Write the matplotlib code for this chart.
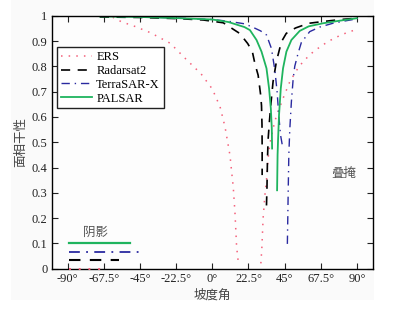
import matplotlib
matplotlib.use("Agg")
import matplotlib.pyplot as plt
from matplotlib.patches import Rectangle

plt.rcParams['font.family'] = ['Liberation Serif', 'Noto Sans CJK SC', 'DejaVu Sans']

# ---------------- data ----------------
series_names = ["ERS", "Radarsat2", "TerraSAR-X", "PALSAR"]

# ERS (two branches)
ers_left_x = [-62, -56.6, -47.9, -38.6, -26.2, -15.9, -7, 0, 4.8, 7.9, 11, 12, 13, 14.1, 15.1, 16.1]
ers_left_y = [0.994, 0.976, 0.957, 0.933, 0.891, 0.825, 0.77, 0.71, 0.64, 0.56, 0.447, 0.383, 0.324, 0.219, 0.087, 0.028]
ers_right_x = [30.2, 30.8, 31.2, 31.6, 32.0, 32.7, 33.7, 34.7, 35.8, 38.9, 41.5, 44, 46.1, 48.2, 51.3, 54, 57, 60.1, 63.7, 67.4, 71.3, 75, 79.2, 83.7, 88.5, 90]
ers_right_y = [0.021, 0.08, 0.14, 0.2, 0.232, 0.29, 0.35, 0.436, 0.495, 0.584, 0.63, 0.673, 0.706, 0.739, 0.772, 0.8, 0.821, 0.842, 0.862, 0.878, 0.895, 0.908, 0.921, 0.933, 0.943, 0.946]

# Radarsat2
rs2_left_x = [-70, -45, -20, -5.6, 6.8, 17, 22, 24.9, 26.5, 28.5, 30.0, 30.6, 30.9, 31.0, 31.0]
rs2_left_y = [0.995, 0.993, 0.988, 0.983, 0.972, 0.93, 0.89, 0.858, 0.81, 0.765, 0.69, 0.645, 0.57, 0.48, 0.37]
rs2_right_x = [33.7, 34.0, 34.3, 34.7, 35.5, 36.5, 37.8, 39.9, 43, 46, 49.2, 52, 60, 69, 80, 90]
rs2_right_y = [0.25, 0.32, 0.43, 0.51, 0.58, 0.655, 0.74, 0.82, 0.897, 0.93, 0.943, 0.952, 0.97, 0.977, 0.985, 0.99]

# TerraSAR-X
tsx_left_x = [-70, -45, -20, 0, 10, 20, 25, 30, 33.7, 36.8, 38.9, 40.3, 41.3, 42.4, 43.5]
tsx_left_y = [0.998, 0.996, 0.99, 0.985, 0.978, 0.968, 0.955, 0.94, 0.924, 0.87, 0.785, 0.7, 0.61, 0.53, 0.49]
tsx_right_x = [46.7, 47.2, 47.6, 48.2, 49.2, 50.3, 51.3, 53.3, 55.4, 60.6, 66.8, 75, 82.3, 89.5]
tsx_right_y = [0.098, 0.3, 0.45, 0.55, 0.66, 0.75, 0.8, 0.85, 0.894, 0.937, 0.955, 0.97, 0.979, 0.987]

# PALSAR
pal_left_x = [-70, -45, -20, 0, 10, 20, 23.4, 27.5, 30.6, 33.7, 35.3, 36.4, 37.0, 37.2]
pal_left_y = [0.997, 0.995, 0.99, 0.985, 0.975, 0.955, 0.943, 0.904, 0.858, 0.792, 0.713, 0.634, 0.555, 0.475]
pal_right_x = [40.3, 40.6, 40.9, 41.5, 42.6, 44, 46.1, 49.2, 54.4, 60, 68.8, 79, 90]
pal_right_y = [0.31, 0.45, 0.509, 0.607, 0.713, 0.792, 0.858, 0.904, 0.94, 0.958, 0.97, 0.98, 0.99]

# shadow ranges (start/end angle, level) per sensor
shadow_start = [-89, -89, -89, -89]
shadow_end = [-69.6, -58.3, -43.8, -51.4]
shadow_level = [0.0, 0.035, 0.065, 0.10]

x_ticks = [-90, -67.5, -45, -22.5, 0, 22.5, 45, 67.5, 90]
x_tick_labels = ["-90°", "-67.5°", "-45°", "-22.5°", "0°", "22.5°", "45°", "67.5°", "90°"]
y_ticks = [0, 0.1, 0.2, 0.3, 0.4, 0.5, 0.6, 0.7, 0.8, 0.9, 1]
y_tick_labels = ["0", "0.1", "0.2", "0.3", "0.4", "0.5", "0.6", "0.7", "0.8", "0.9", "1"]

# ---------------- styles ----------------
colors = ["#f4607a", "#000000", "#2a2aa0", "#1fb45e"]
styles = [(0, (1, 4)), (0, (5.5, 4.5)), (0, (6, 3.5, 1, 3.5)), "-"]
widths = [1.1, 1.2, 1.0, 1.3]

fig = plt.figure(figsize=(4.02, 3.10), dpi=100)
fig.patch.set_facecolor("white")
fig.patches.append(Rectangle((11 / 402, 10 / 310), (374 - 11) / 402, 300 / 310,
                             transform=fig.transFigure, facecolor="#fafafa",
                             edgecolor="none", zorder=-10))
ax = fig.add_axes([51.7 / 402, 41.3 / 310, (373 - 51.7) / 402, (268.7 - 15.7) / 310])
ax.set_facecolor("#fdfdfd")

branches = [
    [(ers_left_x, ers_left_y), (ers_right_x, ers_right_y)],
    [(rs2_left_x, rs2_left_y), (rs2_right_x, rs2_right_y)],
    [(tsx_left_x, tsx_left_y), (tsx_right_x, tsx_right_y)],
    [(pal_left_x, pal_left_y), (pal_right_x, pal_right_y)],
]
for i, name in enumerate(series_names):
    for j, (bx, by) in enumerate(branches[i]):
        ax.plot(bx, by, color=colors[i], linestyle=styles[i], lw=widths[i],
                label=name if j == 0 else None)
    ax.plot([shadow_start[i], shadow_end[i]], [shadow_level[i], shadow_level[i]],
            color=colors[i], linestyle=styles[i], lw=widths[i] + 0.3,
            clip_on=False, zorder=4)

ax.set_xlim(-100, 100)
ax.set_ylim(0, 1)
ax.set_xticks(x_ticks)
ax.set_xticklabels(x_tick_labels)
ax.set_yticks(y_ticks)
ax.set_yticklabels(y_tick_labels)
ax.tick_params(direction="in", length=4, width=0.8, top=True, right=True,
               labelsize=9, colors="#222222", pad=3)
for sp in ax.spines.values():
    sp.set_linewidth(1.0)

ax.set_xlabel("坡度角", fontsize=9, color="#444444", labelpad=3,
              family=["Noto Sans CJK SC", "DejaVu Sans"])
ax.set_ylabel("面相干性", fontsize=9, color="#444444", labelpad=3,
              family=["Noto Sans CJK SC", "DejaVu Sans"])

ax.text(-72.8, 0.145, "阴影", fontsize=9, color="#555555", ha="center", va="center",
        family=["Noto Sans CJK SC", "DejaVu Sans"])
ax.text(82, 0.375, "叠掩", fontsize=9, color="#555555", ha="center", va="center",
        family=["Noto Sans CJK SC", "DejaVu Sans"])

leg = ax.legend(loc="upper left", bbox_to_anchor=(0.018, 0.875), fontsize=9,
                frameon=True, fancybox=False, edgecolor="#222222", framealpha=1,
                handlelength=2.5, handletextpad=0.3, borderpad=0.3, labelspacing=0.15,
                borderaxespad=0)
leg.get_frame().set_linewidth(1.0)

fig.savefig("out.png", dpi=100)
